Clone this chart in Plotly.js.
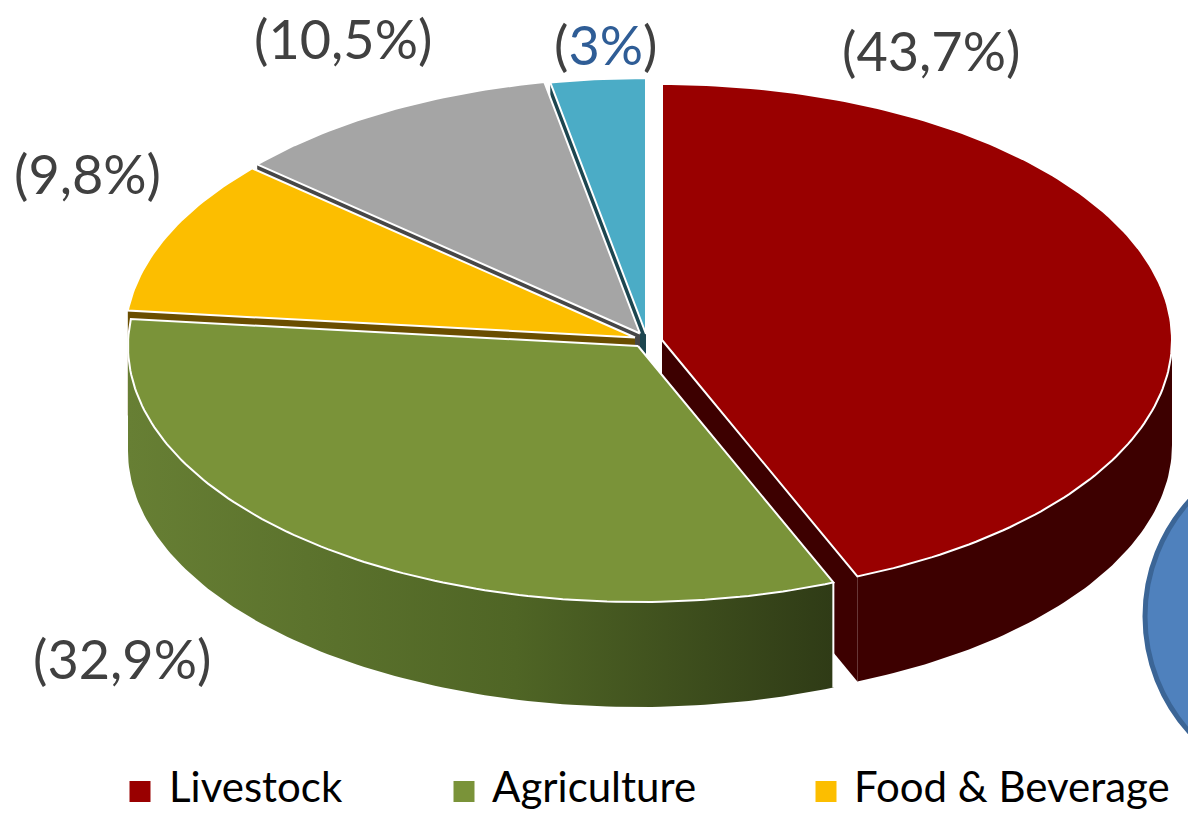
<!DOCTYPE html>
<html><head><meta charset="utf-8">
<script src="https://cdn.plot.ly/plotly-3.0.1.min.js"></script>
<style>html,body{margin:0;padding:0;background:#fff;overflow:hidden}#c{width:1188px;height:813px}</style>
</head><body><div id="c"></div>
<script>
// Data
const legendNames = ['Livestock', 'Agriculture', 'Food & Beverage'];
const shares = [43.7, 32.9, 9.8, 10.5, 3];
const shareLabels = ['(43,7%)', '(32,9%)', '(9,8%)', '(10,5%)',
  '(<span style="color:#2f5d96">3%</span>)'];
const topColors = ['#990000', '#7a9339', '#fcbe00', '#a5a5a5', '#4bacc6'];
const wallColors = ['#3d0000', '#2f3b16', '#6a4e00', '#474747', '#1d4650'];

// Pseudo-3D geometry, in the pixel-sized axis units
const RX = 510, RY = 256, DEPTH = 105, STEP = 1;
const apexX = [662, 638, 635, 640, 646];
const apexY = [340, 346, 337.5, 333.5, 334];
const labelX = [931, 122, 87, 343, 605];
const labelY = [50, 658, 173, 38, 44];
const legendMarkX = [140, 464, 826];
const legendTextX = [167, 490, 852];

const total = shares.reduce((a, b) => a + b, 0);
let acc = 0;
const slices = shares.map((v, i) => {
  const a0 = acc / total * 360; acc += v;
  return {i, a0, a1: acc / total * 360};
});
const px = (s, a) => apexX[s] + RX * Math.sin(a * Math.PI / 180);
const py = (s, a) => apexY[s] - RY * Math.cos(a * Math.PI / 180);
const arc = (s, a0, a1) => {
  const out = [];
  for (let a = a0; a < a1; a += STEP) out.push(a);
  out.push(a1);
  return out.map(a => [px(s, a), py(s, a)]);
};
const poly = (pts, extra) => Object.assign({
  x: pts.map(p => p[0]).concat(pts[0][0]), y: pts.map(p => p[1]).concat(pts[0][1]),
  mode: 'lines', fill: 'toself', line: {width: 0}, showlegend: false, hoverinfo: 'skip'
}, extra);

const traces = [];
const order = [4, 3, 2, 0, 1]; // back to front
order.forEach(s => {
  const {a0, a1} = slices[s];
  const ax = apexX[s], ay = apexY[s], c = wallColors[s];
  const radialWall = a => poly([[ax, ay], [px(s, a), py(s, a)], [px(s, a), py(s, a) + DEPTH], [ax, ay + DEPTH]],
    {fillcolor: c, line: {width: 0, color: c}});
  traces.push(radialWall(a0), radialWall(a1));
  // front rim
  const lo = Math.max(a0, 90), hi = Math.min(a1, 270);
  if (hi > lo) {
    const top = arc(s, lo, hi);
    const bottom = top.map(p => [p[0], p[1] + DEPTH]).reverse();
    const extra = s === 1
      ? {fillcolor: c, fillgradient: {type: 'horizontal', colorscale: [[0, '#677f34'], [0.55, '#4f6525'], [1, '#2f3b16']]}}
      : {fillcolor: c};
    traces.push(poly(top.concat(bottom), extra));
    // white vertical seam at the front corner
    traces.push({x: [px(s, a0), px(s, a0)], y: [py(s, a0), py(s, a0) + DEPTH], mode: 'lines',
      line: {color: '#ffffff', width: 2}, showlegend: false, hoverinfo: 'skip'});
  }
  // top face
  traces.push(poly([[ax, ay]].concat(arc(s, a0, a1)),
    {fillcolor: topColors[s], line: {color: '#ffffff', width: 2}}));
});

// legend squares
legendNames.forEach((n, i) => traces.push({
  x: [legendMarkX[i]], y: [791.5], mode: 'markers', name: n, showlegend: false, hoverinfo: 'skip',
  marker: {symbol: 'square', size: 21, color: topColors[i]}
}));

const annotations = shareLabels.map((t, i) => ({
  x: labelX[i], y: labelY[i], xref: 'x', yref: 'y', text: t, showarrow: false,
  xanchor: 'center', yanchor: 'middle', font: {family: 'Lato', size: 54, color: '#404040'}
})).concat(legendNames.map((n, i) => ({
  x: legendTextX[i], y: 786, xref: 'x', yref: 'y', text: n.replace('&', '&amp;'), showarrow: false,
  xanchor: 'left', yanchor: 'middle', font: {family: 'Lato', size: 42, color: '#000000'}
})));

const layout = {
  width: 1188, height: 813, margin: {l: 0, r: 0, t: 0, b: 0},
  paper_bgcolor: '#fff', plot_bgcolor: '#fff', showlegend: false, hovermode: false,
  xaxis: {range: [0, 1188], visible: false, fixedrange: true},
  yaxis: {range: [813, 0], visible: false, fixedrange: true},
  shapes: [{type: 'circle', xref: 'x', yref: 'y', x0: 1145, x1: 1490, y0: 444, y1: 789,
    fillcolor: '#4f81bd', line: {color: '#3b6596', width: 5}, layer: 'below'}],
  annotations
};
Plotly.newPlot('c', traces, layout, {displayModeBar: false, staticPlot: true});
</script></body></html>
